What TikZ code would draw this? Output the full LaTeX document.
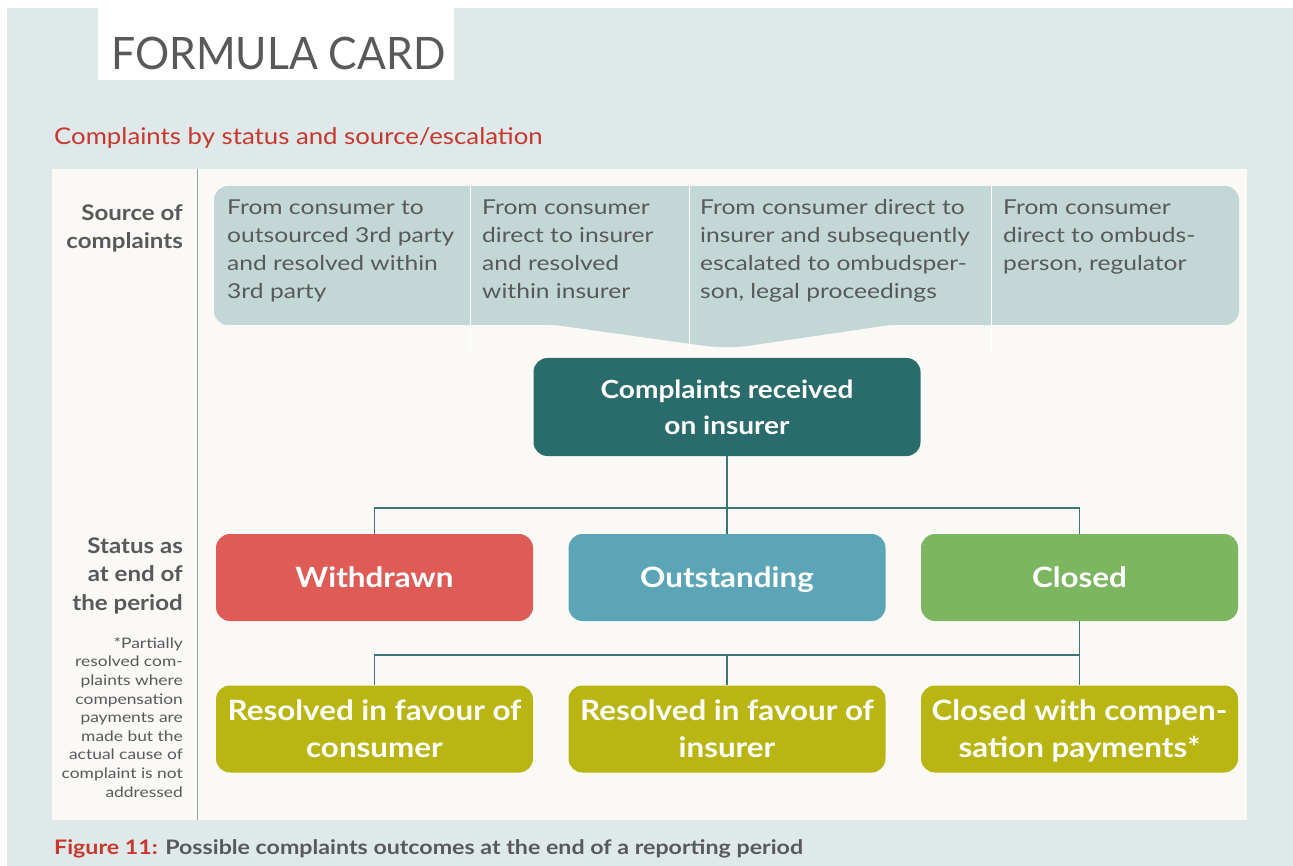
\documentclass[tikz,border=0pt]{standalone}
\usepackage{fontspec}
\setmainfont{Lato}[FakeStretch=1.12]
\newfontfamily\regwide{Lato}[FakeStretch=1.2]
\newfontfamily\capfont{Lato}[FakeStretch=1.16]
\newfontfamily\titlefont{Lato}[FakeStretch=0.955]
\definecolor{bgc}{HTML}{E0E9EA}
\definecolor{panel}{HTML}{FAF9F6}
\definecolor{srcc}{HTML}{C3D7D6}
\definecolor{txtgray}{HTML}{58595B}
\definecolor{redc}{HTML}{C8372D}
\definecolor{tealc}{HTML}{2A6B6C}
\definecolor{connc}{HTML}{3D7677}
\definecolor{divc}{HTML}{8FA3A8}
\definecolor{wdc}{HTML}{DE5C55}
\definecolor{otc}{HTML}{5CA5B6}
\definecolor{clc}{HTML}{7CB660}
\definecolor{olc}{HTML}{B9B614}
\tikzset{
  srctext/.style={anchor=base west, inner sep=0pt, align=left, text=txtgray, font=\regwide\fontsize{20.5}{28}\selectfont},
  sidelabel/.style={anchor=base east, inner sep=0pt, align=right, text=txtgray, font=\bfseries\fontsize{21.5}{28.5}\selectfont},
  box/.style={rounded corners=14pt, minimum width=317pt, minimum height=87pt, inner sep=0pt, align=center, text=white, text depth=0pt, font=\bfseries\fontsize{28}{37}\selectfont},
  conn/.style={draw=connc, line width=1.3pt},
}
\begin{document}
\begin{tikzpicture}[x=1pt,y=-1pt]
\useasboundingbox (0,0) rectangle (1293,866);
\fill[white] (0,0) rectangle (1293,866);
\fill[bgc] (7,8) rectangle (1293,866);
\fill[white] (98,8) rectangle (454,80);
\node[anchor=base west, inner sep=0pt, text=txtgray, font=\titlefont\fontsize{44.7}{50}\selectfont] (title) at (111,70) {FORMULA CARD};
\node[anchor=base west, inner sep=0pt, text=redc, font=\fontsize{23}{28}\selectfont] (sub) at (54,145) {Complaints by status and source/escalation};
\fill[panel] (52,169) rectangle (1247,820);
\draw[divc, line width=0.8pt] (197.5,169) -- (197.5,820);
% source band
\fill[srcc] [rounded corners=14pt] (214,186) -- (1239,186) -- (1239,325) [rounded corners=4pt] -- (890,325) [rounded corners=22pt] -- (727,349) [rounded corners=4pt] -- (555,325) [rounded corners=14pt] -- (214,325) -- cycle;
\foreach \xx in {470,689,991} \draw[white, line width=0.9pt] (\xx,186) -- (\xx,353);
\node[srctext] (s1) at (227,299) {From consumer to\\outsourced 3rd party\\and resolved within\\3rd party};
\node[srctext] (s2) at (482,299) {From consumer\\direct to insurer\\and resolved\\within insurer};
\node[srctext] (s3) at (700,299) {From consumer direct to\\insurer and subsequently\\escalated to ombudsper-\\son, legal proceedings};
\node[srctext] (s4) at (1003,271) {From consumer\\direct to ombuds-\\person, regulator};
% side labels
\node[sidelabel] (srclab) at (183,249) {Source of\\complaints};
\node[sidelabel] (statlab) at (183,610) {Status as\\at end of\\the period};
\node[anchor=base east, inner sep=0pt, align=right, text=txtgray, font=\regwide\fontsize{14.5}{18.6}\selectfont] (foot) at (183,797) {*Partially\\resolved com-\\plaints where\\compensation\\payments are\\made but the\\actual cause of\\complaint is not\\addressed};
% boxes
\node[box, fill=tealc, minimum width=387pt, minimum height=98pt, font=\bfseries\fontsize{25}{36}\selectfont] (recv) at (727,407) {Complaints received\\on insurer};
\node[box, fill=wdc] (w) at (374.5,577.5) {Withdrawn};
\node[box, fill=otc] (o) at (727,577.5) {Outstanding};
\node[box, fill=clc] (c) at (1079.5,577.5) {Closed};
\node[box, fill=olc] (r1) at (374.5,729) {Resolved in favour of\\consumer};
\node[box, fill=olc] (r2) at (727,729) {Resolved in favour of\\insurer};
\node[box, fill=olc] (r3) at (1079.5,729) {Closed with compen-\\sation payments*};
% connectors
\coordinate (j1) at (727,508);
\coordinate (j2) at (1079.5,655);
\draw[conn] (recv.south) -- (o.north);
\draw[conn] (w.north) |- (j1) -| (c.north);
\draw[conn] (c.south) -- (r3.north);
\draw[conn] (r1.north) |- (j2);
\draw[conn] (r2.north) -- (r2.north |- j2);
% caption
\node[anchor=base west, inner sep=0pt, text=txtgray, font=\capfont\bfseries\fontsize{20}{24}\selectfont] (cap) at (54,854) {\textcolor{redc}{Figure 11:} Possible complaints outcomes at the end of a reporting period};
\end{tikzpicture}
\end{document}
